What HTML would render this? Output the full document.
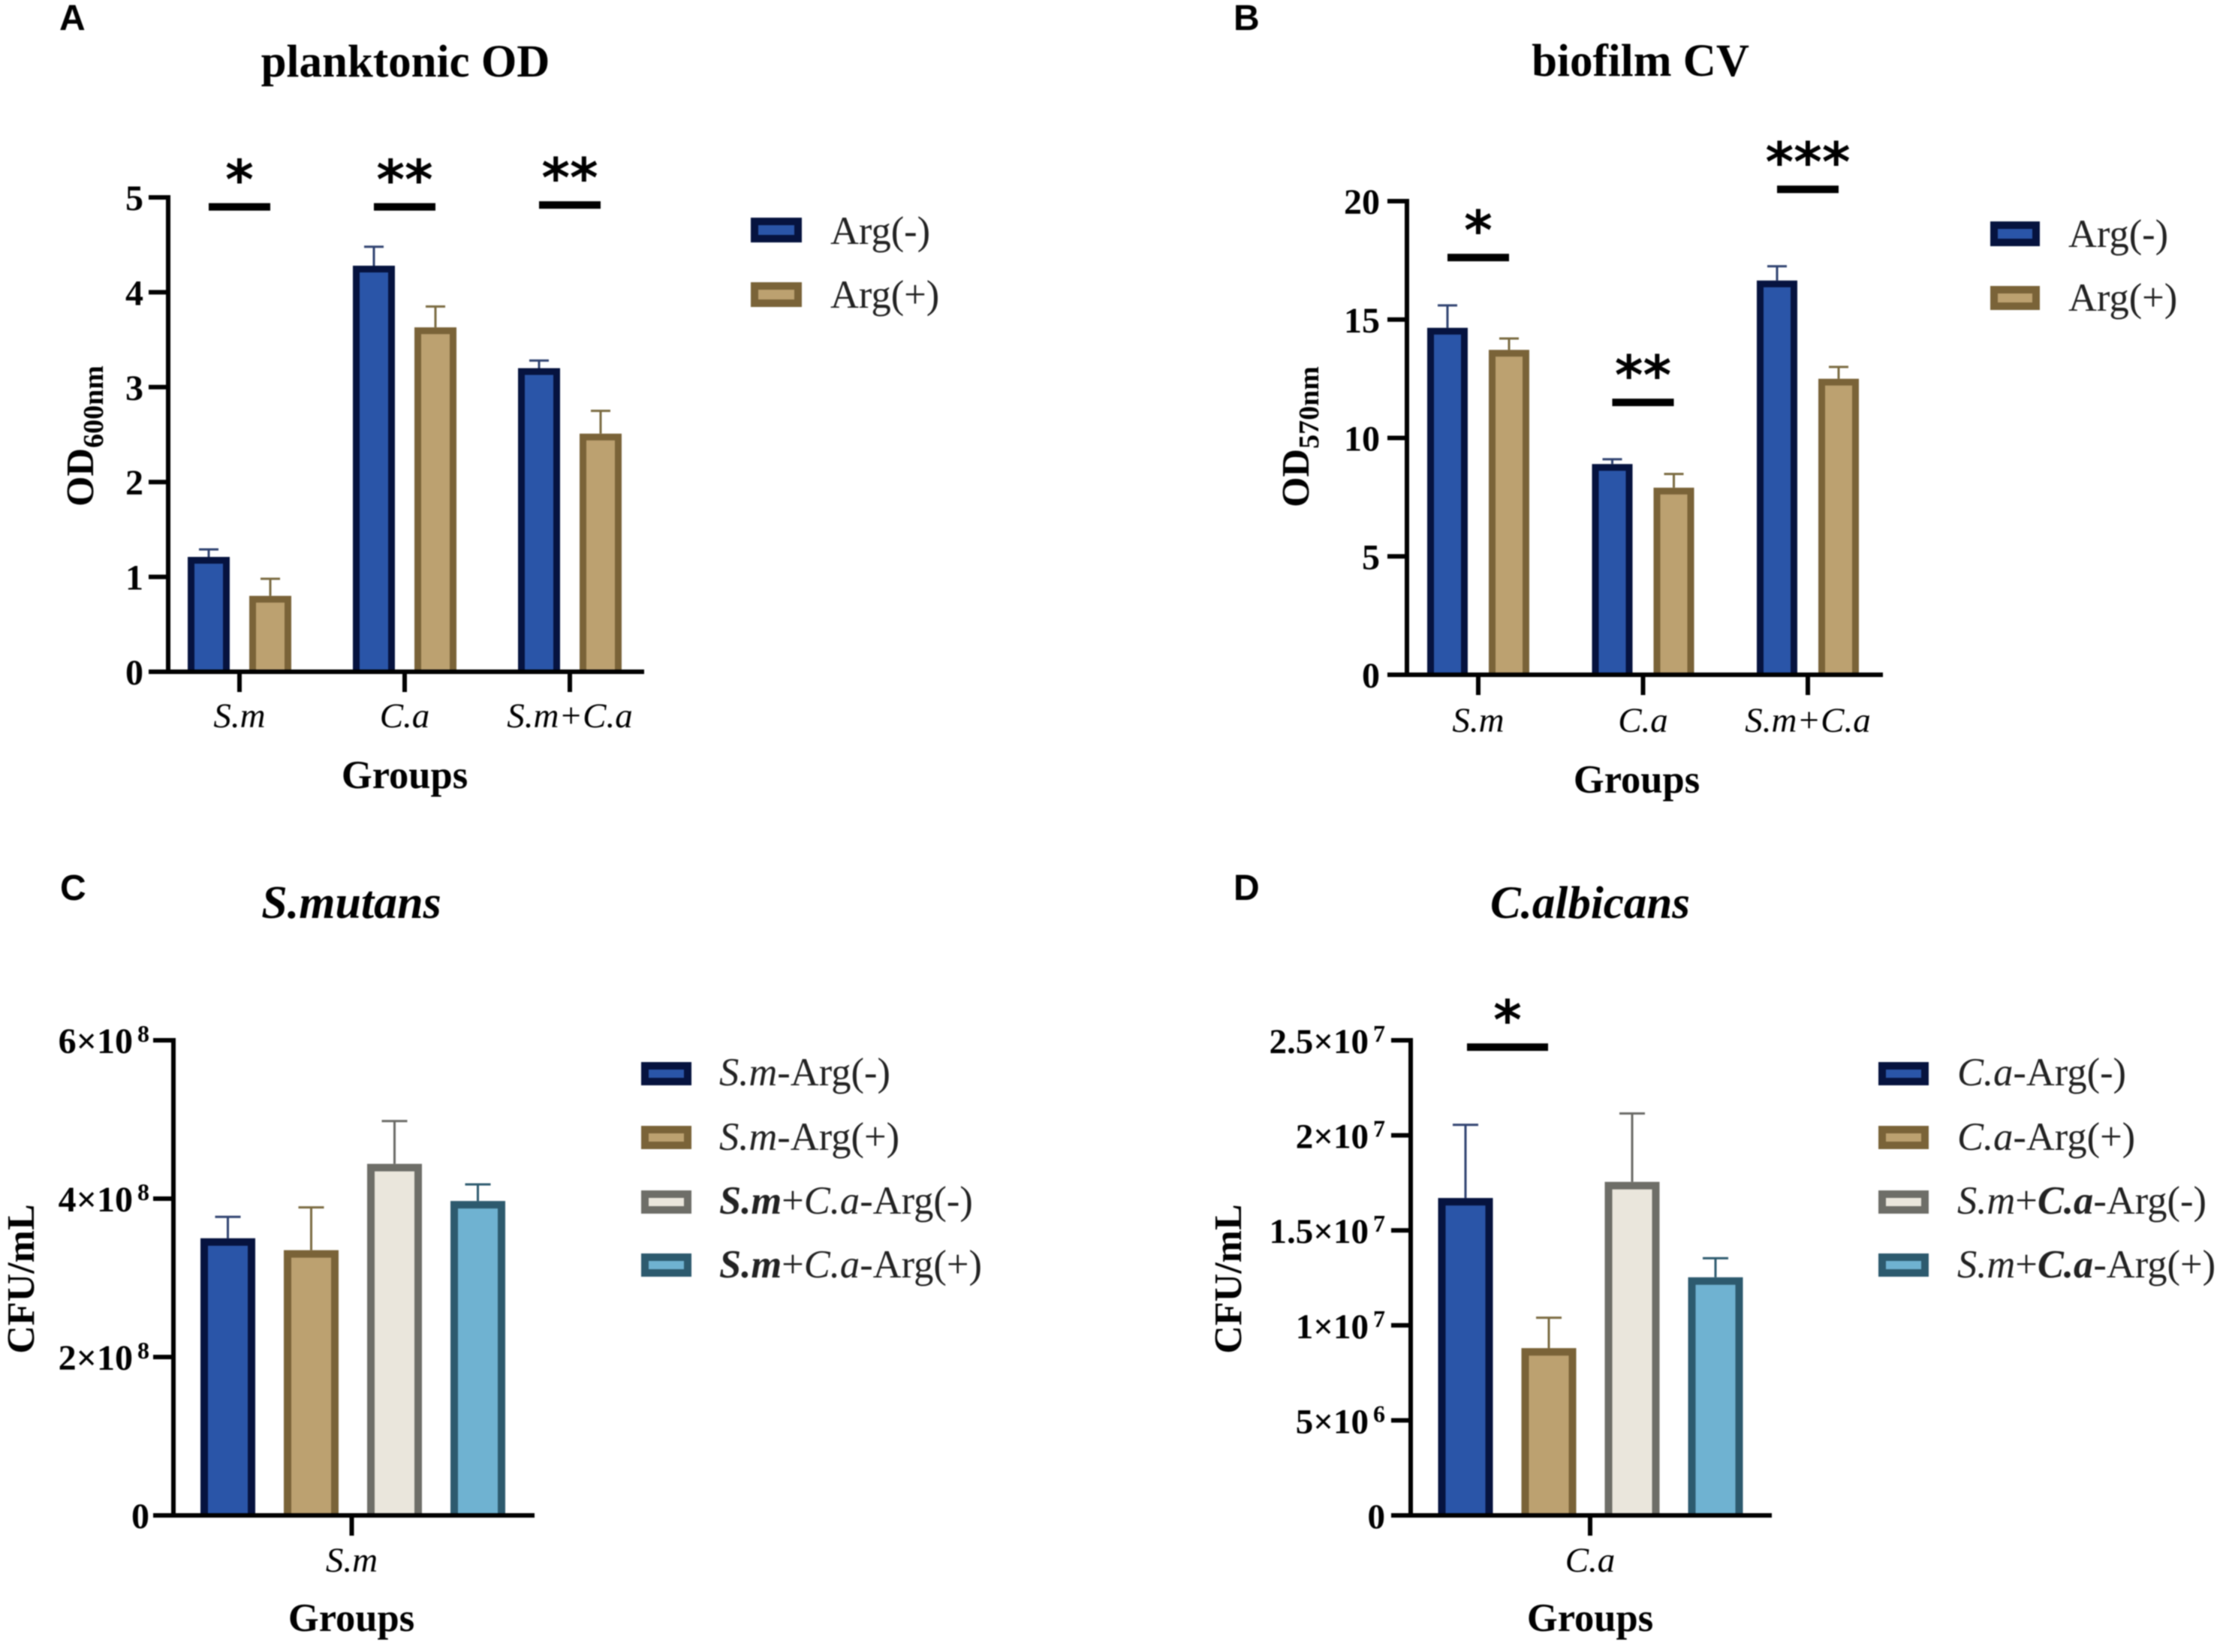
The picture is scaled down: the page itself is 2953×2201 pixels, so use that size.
<!DOCTYPE html>
<html lang="en">
<head>
<meta charset="utf-8">
<title>Planktonic OD, biofilm CV and CFU charts</title>
<style>
html,body{margin:0;padding:0;background:#fff;}
svg{display:block;filter:blur(0.7px);}
text{font-family:"Liberation Serif",serif;fill:#000;}
.panel-letter{font-family:"Liberation Sans",sans-serif;font-weight:bold;font-size:48px;}
.title{font-weight:bold;font-size:61px;text-anchor:middle;}
.title-italic{font-style:italic;}
.axis-title{font-weight:bold;font-size:52.5px;text-anchor:middle;}
.legend-text{font-size:52.5px;fill:#222;}
.ylab{font-weight:bold;font-size:52px;text-anchor:middle;}
</style>
</head>
<body>
<svg id="figure" xmlns="http://www.w3.org/2000/svg" width="2953" height="2201" viewBox="0 0 2953 2201">
<rect width="2953" height="2201" fill="#fff"/>

<!-- Panel A -->
<g id="panel-a">
<text class="panel-letter" x="79" y="40">A</text>
<text class="title" x="540" y="102">planktonic OD</text>
<text class="axis-title" x="539" y="1050">Groups</text>
<text class="ylab" transform="translate(124 581) rotate(-90)">OD<tspan font-size="38" dy="13">600nm</tspan></text>
<g>
<rect x="1005" y="295" width="58" height="23" fill="#2a55a8" stroke="#06133f" stroke-width="10"/>
<text class="legend-text" x="1106" y="325">Arg(-)</text>
<rect x="1005" y="381" width="58" height="23" fill="#bca170" stroke="#7a6338" stroke-width="10"/>
<text class="legend-text" x="1106" y="410">Arg(+)</text>
</g>
</g>

<!-- Panel B -->
<g id="panel-b">
<text class="panel-letter" x="1643" y="40">B</text>
<text class="title" x="2185" y="101">biofilm CV</text>
<text class="axis-title" x="2180" y="1056">Groups</text>
<text class="ylab" transform="translate(1743 582) rotate(-90)">OD<tspan font-size="38" dy="13">570nm</tspan></text>
<g>
<rect x="2656" y="300" width="56" height="23" fill="#2a55a8" stroke="#06133f" stroke-width="10"/>
<text class="legend-text" x="2755" y="329">Arg(-)</text>
<rect x="2656" y="386" width="56" height="22" fill="#bca170" stroke="#7a6338" stroke-width="10"/>
<text class="legend-text" x="2755" y="414">Arg(+)</text>
</g>
</g>

<!-- Panel C -->
<g id="panel-c">
<text class="panel-letter" x="80" y="1199">C</text>
<text class="title title-italic" font-size="62" style="font-size:62px" x="468" y="1223">S.mutans</text>
<text class="axis-title" x="468" y="2173">Groups</text>
<text class="ylab" transform="translate(45 1704) rotate(-90)">CFU/mL</text>
<g>
<rect x="859" y="1420" width="57" height="21" fill="#2a55a8" stroke="#06133f" stroke-width="10"/>
<text class="legend-text" x="958" y="1446"><tspan font-style="italic">S.m</tspan>-Arg(-)</text>
<rect x="859" y="1505" width="57" height="21" fill="#bca170" stroke="#7a6338" stroke-width="10"/>
<text class="legend-text" x="958" y="1532"><tspan font-style="italic">S.m</tspan>-Arg(+)</text>
<rect x="859" y="1591" width="57" height="21" fill="#eae6dc" stroke="#6e6e68" stroke-width="10"/>
<text class="legend-text" x="958" y="1617"><tspan font-style="italic" font-weight="bold">S.m</tspan>+<tspan font-style="italic">C.a</tspan>-Arg(-)</text>
<rect x="859" y="1675" width="57" height="21" fill="#6fb2d1" stroke="#2d5a6e" stroke-width="10"/>
<text class="legend-text" x="958" y="1702"><tspan font-style="italic" font-weight="bold">S.m</tspan>+<tspan font-style="italic">C.a</tspan>-Arg(+)</text>
</g>
</g>

<!-- Panel D -->
<g id="panel-d">
<text class="panel-letter" x="1643" y="1199">D</text>
<text class="title title-italic" x="2118" y="1223">C.albicans</text>
<text class="axis-title" x="2118" y="2173">Groups</text>
<text class="ylab" transform="translate(1653 1704) rotate(-90)">CFU/mL</text>
<g>
<rect x="2507" y="1420" width="57" height="21" fill="#2a55a8" stroke="#06133f" stroke-width="10"/>
<text class="legend-text" x="2607" y="1446"><tspan font-style="italic">C.a</tspan>-Arg(-)</text>
<rect x="2507" y="1505" width="57" height="21" fill="#bca170" stroke="#7a6338" stroke-width="10"/>
<text class="legend-text" x="2607" y="1532"><tspan font-style="italic">C.a</tspan>-Arg(+)</text>
<rect x="2507" y="1591" width="57" height="21" fill="#eae6dc" stroke="#6e6e68" stroke-width="10"/>
<text class="legend-text" x="2607" y="1617"><tspan font-style="italic">S.m</tspan>+<tspan font-style="italic" font-weight="bold">C.a</tspan>-Arg(-)</text>
<rect x="2507" y="1675" width="57" height="21" fill="#6fb2d1" stroke="#2d5a6e" stroke-width="10"/>
<text class="legend-text" x="2607" y="1702"><tspan font-style="italic">S.m</tspan>+<tspan font-style="italic" font-weight="bold">C.a</tspan>-Arg(+)</text>
</g>
</g>
</svg>

<script>
// ---------- Panel A data ----------
var aCategories = ['S.m', 'C.a', 'S.m+C.a'];
var aArgMinus = [1.21, 4.28, 3.2];
var aArgMinusErr = [0.08, 0.2, 0.08];
var aArgPlus = [0.8, 3.63, 2.51];
var aArgPlusErr = [0.18, 0.22, 0.24];
var aTicks = [0, 1, 2, 3, 4, 5];
var aTickLabels = ['0', '1', '2', '3', '4', '5'];
var aSigLabels = ['*', '**', '**'];
var aSigLevels = [4.9, 4.9, 4.92];

// ---------- Panel B data ----------
var bCategories = ['S.m', 'C.a', 'S.m+C.a'];
var bArgMinus = [14.65, 8.9, 16.65];
var bArgMinusErr = [0.95, 0.2, 0.6];
var bArgPlus = [13.72, 7.9, 12.5];
var bArgPlusErr = [0.48, 0.58, 0.5];
var bTicks = [0, 5, 10, 15, 20];
var bTickLabels = ['0', '5', '10', '15', '20'];
var bSigLabels = ['*', '**', '***'];
var bSigLevels = [17.62, 11.5, 20.5];

// ---------- Panel C data ----------
var cCategories = ['S.m'];
var cValues = [3.5e8, 3.35e8, 4.44e8, 3.97e8];
var cErrors = [0.27e8, 0.54e8, 0.54e8, 0.21e8];
var cTicks = [0, 2e8, 4e8, 6e8];
var cTickLabels = ['0', '2×10', '4×10', '6×10'];
var cTickExponents = ['', '8', '8', '8'];

// ---------- Panel D data ----------
var dCategories = ['C.a'];
var dValues = [1.67e7, 0.88e7, 1.755e7, 1.253e7];
var dErrors = [0.385e7, 0.16e7, 0.36e7, 0.10e7];
var dTicks = [0, 5e6, 1e7, 1.5e7, 2e7, 2.5e7];
var dTickLabels = ['0', '5×10', '1×10', '1.5×10', '2×10', '2.5×10'];
var dTickExponents = ['', '6', '7', '7', '7', '7'];
var dSigLabels = ['*'];
var dSigLevels = [2.464e7];

// ---------- Styling ----------
var paletteBlue = {fill: '#2a55a8', stroke: '#06133f', err: '#2f4270'};
var paletteTan = {fill: '#bca170', stroke: '#7a6338', err: '#7a6a40'};
var paletteGrey = {fill: '#eae6dc', stroke: '#6e6e68', err: '#6a6a66'};
var paletteTeal = {fill: '#6fb2d1', stroke: '#2d5a6e', err: '#2d5a6e'};

var SVG_NS = 'http://www.w3.org/2000/svg';

function make(parent, tag, attrs, text) {
  var el = document.createElementNS(SVG_NS, tag);
  for (var k in attrs) { el.setAttribute(k, attrs[k]); }
  if (text !== undefined) { el.textContent = text; }
  parent.appendChild(el);
  return el;
}

function linearScale(d0, d1, r0, r1) {
  return function (v) { return r0 + (v - d0) * (r1 - r0) / (d1 - d0); };
}

function drawBar(g, cx, value, err, yScale, base, width, border, pal, capWidth, name) {
  var top = yScale(value);
  var errTop = yScale(value + err);
  var left = cx - width / 2 + border / 2;
  var right = cx + width / 2 - border / 2;
  var upper = top + border / 2;
  var el;
  el = make(g, 'line', {x1: cx, x2: cx, y1: top, y2: errTop, stroke: pal.err, 'stroke-width': 3});
  
  
  el = make(g, 'line', {x1: cx - capWidth / 2, x2: cx + capWidth / 2, y1: errTop, y2: errTop, stroke: pal.err, 'stroke-width': 3});
  
  
  el = make(g, 'path', {
    d: 'M' + left + ' ' + base + 'V' + upper + 'H' + right + 'V' + base,
    fill: pal.fill, stroke: pal.stroke, 'stroke-width': border
  });
  
  
}

function drawAxes(g, L, yScale, ticks, tickLabels, tickExponents, xCenters, categories) {
  var el, i;
  var y0 = yScale(ticks[0]);
  var yTop = yScale(ticks[ticks.length - 1]);
  el = make(g, 'line', {x1: L.axisX, x2: L.axisX, y1: yTop - 3, y2: y0, stroke: '#000', 'stroke-width': 6});
  
  
  el = make(g, 'line', {x1: L.tickStart, x2: L.xEnd, y1: y0, y2: y0, stroke: '#000', 'stroke-width': 6});
  
  
  for (i = 0; i < ticks.length; i++) {
    var ty = yScale(ticks[i]);
    el = make(g, 'line', {x1: L.tickStart, x2: L.axisX, y1: ty, y2: ty, stroke: '#000', 'stroke-width': 6});
    
    
    var t = make(g, 'text', {
      x: L.labelRight, y: ty + L.tickBaseline, 'text-anchor': 'end',
      'font-weight': 'bold', 'font-size': L.tickSize
    }, tickLabels[i]);
    
    
    if (tickExponents && tickExponents[i]) {
      var sup = make(t, 'tspan', {dx: 6, dy: -15, 'font-size': 32}, tickExponents[i]);
      
      
    }
  }
  for (i = 0; i < xCenters.length; i++) {
    el = make(g, 'line', {x1: xCenters[i], x2: xCenters[i], y1: y0, y2: y0 + 27, stroke: '#000', 'stroke-width': 6});
    
    
    el = make(g, 'text', {
      x: xCenters[i], y: L.catBaseline, 'text-anchor': 'middle',
      'font-style': 'italic', 'font-size': L.catSize, fill: '#222'
    }, categories[i]);
    
    
  }
}

function drawSig(g, cx, halfWidth, level, label, yScale, starOffset) {
  var y = yScale(level);
  var el = make(g, 'line', {x1: cx - halfWidth, x2: cx + halfWidth, y1: y, y2: y, stroke: '#000', 'stroke-width': 10});
  
  
  el = make(g, 'text', {
    x: cx, y: y + starOffset, 'text-anchor': 'middle', 'font-weight': 'bold',
    'font-size': 72, style: 'font-family:"DejaVu Sans",sans-serif'
  }, label);
  
  
}

function groupedPanel(id, L, cats, ticks, tickLabels, minus, minusErr, plus, plusErr, sigLabels, sigLevels) {
  var g = document.getElementById(id);
  var yScale = linearScale(ticks[0], ticks[ticks.length - 1], L.y0, L.yTop);
  var centers = [];
  for (var i = 0; i < cats.length; i++) {
    var c = L.firstCenter + i * L.groupStep;
    centers.push(c);
    drawBar(g, c - L.barOffset, minus[i], minusErr[i], yScale, L.y0, L.barWidth, L.border, paletteBlue, L.cap, 'bar-arg-minus-' + i);
    drawBar(g, c + L.barOffset, plus[i], plusErr[i], yScale, L.y0, L.barWidth, L.border, paletteTan, L.cap, 'bar-arg-plus-' + i);
  }
  drawAxes(g, L, yScale, ticks, tickLabels, null, centers, cats);
  for (var j = 0; j < sigLabels.length; j++) {
    drawSig(g, centers[j], L.sigHalf, sigLevels[j], sigLabels[j], yScale, L.starOffset);
  }
}

function singlePanel(id, L, cats, ticks, tickLabels, tickExp, values, errors, sigLabels, sigLevels) {
  var g = document.getElementById(id);
  var yScale = linearScale(ticks[0], ticks[ticks.length - 1], L.y0, L.yTop);
  var pals = [paletteBlue, paletteTan, paletteGrey, paletteTeal];
  for (var i = 0; i < values.length; i++) {
    var cx = L.firstBar + i * L.barStep;
    drawBar(g, cx, values[i], errors[i], yScale, L.y0, L.barWidth, L.border, pals[i], L.cap, 'bar-' + i);
  }
  drawAxes(g, L, yScale, ticks, tickLabels, tickExp, [L.catCenter], cats);
  if (sigLabels) {
    for (var j = 0; j < sigLabels.length; j++) {
      drawSig(g, L.sigCenter, L.sigHalf, sigLevels[j], sigLabels[j], yScale, L.starOffset);
    }
  }
}

groupedPanel('panel-a', {
  y0: 895, yTop: 263, axisX: 224, tickStart: 198, xEnd: 858, labelRight: 191, tickBaseline: 17, tickSize: 48,
  firstCenter: 319, groupStep: 220, barOffset: 41, barWidth: 56, border: 9, cap: 26,
  catBaseline: 969, catSize: 47, sigHalf: 41, starOffset: -11
}, aCategories, aTicks, aTickLabels, aArgMinus, aArgMinusErr, aArgPlus, aArgPlusErr, aSigLabels, aSigLevels);

groupedPanel('panel-b', {
  y0: 899, yTop: 268, axisX: 1874, tickStart: 1848, xEnd: 2508, labelRight: 1838, tickBaseline: 17, tickSize: 48,
  firstCenter: 1969, groupStep: 219.5, barOffset: 41, barWidth: 54, border: 9, cap: 26,
  catBaseline: 975, catSize: 47, sigHalf: 41, starOffset: -11
}, bCategories, bTicks, bTickLabels, bArgMinus, bArgMinusErr, bArgPlus, bArgPlusErr, bSigLabels, bSigLevels);

singlePanel('panel-c', {
  y0: 2019, yTop: 1386, axisX: 231, tickStart: 204, xEnd: 712, labelRight: 199, tickBaseline: 17, tickSize: 48,
  firstBar: 303.5, barStep: 111, barWidth: 73, border: 10, cap: 34,
  catCenter: 468.5, catBaseline: 2094, catSize: 47
}, cCategories, cTicks, cTickLabels, cTickExponents, cValues, cErrors, null, null);

singlePanel('panel-d', {
  y0: 2019, yTop: 1386, axisX: 1879, tickStart: 1853, xEnd: 2360, labelRight: 1845, tickBaseline: 17, tickSize: 47,
  firstBar: 1952, barStep: 111, barWidth: 73, border: 10, cap: 34,
  catCenter: 2118, catBaseline: 2094, catSize: 47,
  sigCenter: 2008, sigHalf: 54, starOffset: -11
}, dCategories, dTicks, dTickLabels, dTickExponents, dValues, dErrors, dSigLabels, dSigLevels);
</script>
</body>
</html>
